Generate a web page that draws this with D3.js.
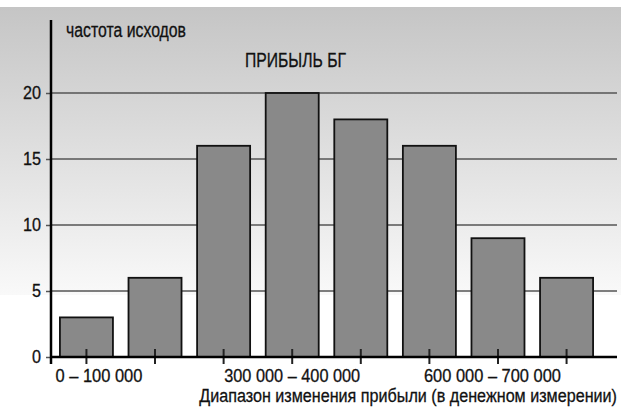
<!DOCTYPE html>
<html>
<head>
<meta charset="utf-8">
<script src="https://cdn.jsdelivr.net/npm/d3@7"></script>
<style>
  body { margin: 0; background: #fff; }
  svg text { font-family: "Liberation Sans", Arial, sans-serif; fill: #111; stroke: #111; stroke-width: 0.3px; }
</style>
</head>
<body>
<div id="chart"></div>
<script>
var width = 621, height = 409;

// data
var categories = ["0–100", "100–200", "200–300", "300–400", "400–500", "500–600", "600–700", "700–800"];
var counts = [3, 6, 16, 20, 18, 16, 9, 6];
var xLabels = ["0 – 100 000", "", "", "300 000 – 400 000", "", "", "600 000 – 700 000", ""];
var yTicks = [0, 5, 10, 15, 20];

// the original type is a condensed face, squeeze Liberation Sans to the same widths
var xLabelWidth = [87, 0, 0, 136, 0, 0, 137, 0],
    xLabelShift = [12.5, 0, 0, 0, 0, 0, -5.5, 0];

var svg = d3.select("#chart").append("svg")
    .attr("width", width)
    .attr("height", height);

var grad = svg.append("defs").append("linearGradient")
    .attr("id", "bg")
    .attr("x1", 0).attr("y1", 0).attr("x2", 0).attr("y2", 1);
grad.append("stop").attr("offset", "0%").attr("stop-color", "#c5c5c5");
grad.append("stop").attr("offset", "100%").attr("stop-color", "#f9f9f9");

svg.append("rect")
    .attr("x", 0).attr("y", 7)
    .attr("width", width).attr("height", 288)
    .attr("fill", "url(#bg)");

var x = d3.scaleBand()
    .domain(categories)
    .range([51, 602])
    .paddingInner(0.227)
    .paddingOuter(0.13);

var y = d3.scaleLinear()
    .domain([0, 20])
    .range([357, 93]);

// grid lines
svg.append("g")
    .attr("class", "grid")
    .selectAll("line")
    .data(yTicks.filter(function(d) { return d > 0; }))
    .enter().append("line")
      .attr("x1", 51)
      .attr("x2", 617)
      .attr("y1", function(d) { return y(d); })
      .attr("y2", function(d) { return y(d); })
      .attr("stroke", "#555")
      .attr("stroke-width", 1.5);

// bars
svg.append("g")
    .selectAll("rect")
    .data(counts)
    .enter().append("rect")
      .attr("x", function(d, i) { return x(categories[i]); })
      .attr("y", function(d) { return y(d); })
      .attr("width", x.bandwidth())
      .attr("height", function(d) { return y(0) - y(d); })
      .attr("fill", "#898989")
      .attr("stroke", "#111")
      .attr("stroke-width", 1.8);

// y axis
var yAxis = svg.append("g")
    .attr("class", "y-axis")
    .attr("transform", "translate(51,0)")
    .call(d3.axisLeft(y).tickValues(yTicks).tickSize(5).tickPadding(5));
yAxis.select(".domain").remove();
yAxis.selectAll(".tick line").attr("stroke", "#555").attr("stroke-width", 1.5);
yAxis.selectAll(".tick text")
    .style("font-size", "18.5px")
    .attr("textLength", function(d) { return String(d).length * 9; })
    .attr("lengthAdjust", "spacingAndGlyphs")
    .attr("fill", "#111");
yAxis.append("line")
    .attr("x1", 0).attr("x2", 0)
    .attr("y1", 20).attr("y2", 364)
    .attr("stroke", "#000")
    .attr("stroke-width", 2.5);

// x axis
var xAxis = svg.append("g")
    .attr("class", "x-axis")
    .attr("transform", "translate(0," + y(0) + ")")
    .call(d3.axisBottom(x).tickSize(0).tickPadding(12)
      .tickFormat(function(d, i) { return xLabels[i]; }));
xAxis.select(".domain").remove();
xAxis.selectAll(".tick text")
    .style("font-size", "18.5px")
    .attr("fill", "#111")
    .attr("dx", function(d, i) { return xLabelShift[i]; })
    .each(function(d, i) {
      if (xLabelWidth[i]) d3.select(this).attr("textLength", xLabelWidth[i]).attr("lengthAdjust", "spacingAndGlyphs");
    });
xAxis.selectAll(".tick").append("line")
    .attr("y1", -8).attr("y2", 7)
    .attr("stroke", "#222")
    .attr("stroke-width", 2);
xAxis.append("line")
    .attr("x1", 50).attr("x2", 617)
    .attr("y1", 0).attr("y2", 0)
    .attr("stroke", "#000")
    .attr("stroke-width", 2.5);

// titles
svg.append("text")
    .attr("x", 66).attr("y", 37)
    .style("font-size", "19.5px")
    .attr("textLength", 120)
    .attr("lengthAdjust", "spacingAndGlyphs")
    .text("частота исходов");

svg.append("text")
    .attr("x", 245).attr("y", 67)
    .style("font-size", "19.5px")
    .attr("textLength", 101)
    .attr("lengthAdjust", "spacingAndGlyphs")
    .text("ПРИБЫЛЬ БГ");

// long axis title: squeeze with a transform so its box stays inside the picture
var xTitle = svg.append("text")
    .attr("x", 0).attr("y", 0)
    .style("text-anchor", "end")
    .style("font-size", "19px")
    .text("Диапазон изменения прибыли (в денежном измерении)");
var sx = 418 / xTitle.node().getComputedTextLength();
xTitle.attr("transform", "translate(617,402) scale(" + sx + ",1)");
</script>
</body>
</html>
